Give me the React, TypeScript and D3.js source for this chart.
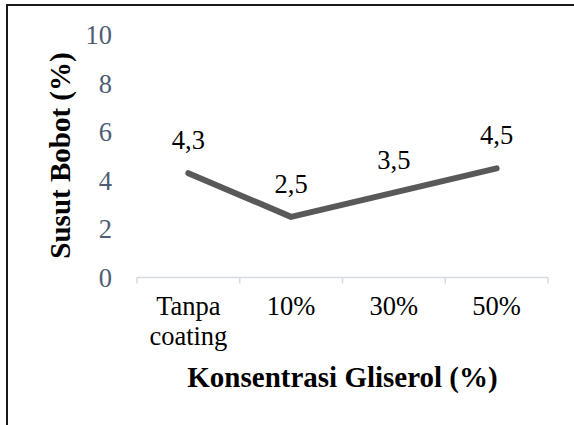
import React from "react";
import * as d3 from "d3";

const categories: string[][] = [["Tanpa", "coating"], ["10%"], ["30%"], ["50%"]];
const values: number[] = [4.3, 2.5, 3.5, 4.5];
const valueLabels: string[] = ["4,3", "2,5", "3,5", "4,5"];
const yTicks: number[] = [0, 2, 4, 6, 8, 10];

const W = 574;
const H = 425;

const serif = '"Liberation Serif", "Times New Roman", Times, "DejaVu Serif", serif';

export default function App() {
  const x = d3
    .scaleBand<number>()
    .domain(categories.map((_, i) => i))
    .range([137, 548])
    .paddingInner(0)
    .paddingOuter(0);
  const y = d3.scaleLinear().domain([0, 10]).range([277.5, 35]);

  const line = d3
    .line<number>()
    .x((_, i) => (x(i) as number) + x.bandwidth() / 2)
    .y((d) => y(d));

  const tickPositions = [...x.domain().map((i) => x(i) as number), 548];
  const ts = { fontFamily: serif };

  return (
    <svg
      width={W}
      height={H}
      style={{ position: "absolute", left: 0, top: 0, background: "#fff", fontFamily: serif }}
    >
      <rect x={0} y={0} width={W} height={H} fill="#fff" />
      {/* frame */}
      <line x1={7} y1={5} x2={W} y2={5} stroke="#1a1a1a" strokeWidth={2} />
      <line x1={7} y1={4} x2={7} y2={H} stroke="#1a1a1a" strokeWidth={2} />

      {/* y tick labels */}
      {yTicks.map((t) => (
        <text
          key={t}
          x={112}
          y={y(t)}
          textAnchor="end"
          dominantBaseline="central"
          fontSize={26.5}
          fill="#4E5D74"
          style={ts}
        >
          {t}
        </text>
      ))}

      {/* x axis */}
      <line x1={137} y1={y(0)} x2={548} y2={y(0)} stroke="#D6DBE3" strokeWidth={1.5} />
      {tickPositions.map((p, i) => (
        <line key={i} x1={p} y1={y(0)} x2={p} y2={y(0) + 6} stroke="#D6DBE3" strokeWidth={1.5} />
      ))}

      {/* category labels */}
      {categories.map((lines, i) => (
        <text
          key={i}
          x={(x(i) as number) + x.bandwidth() / 2}
          y={315}
          textAnchor="middle"
          fontSize={26.5}
          fill="#000"
          style={ts}
        >
          {lines.map((l, j) => (
            <tspan key={j} x={(x(i) as number) + x.bandwidth() / 2} dy={j === 0 ? 0 : 30}>
              {l}
            </tspan>
          ))}
        </text>
      ))}

      {/* line */}
      <path
        d={line(values) || ""}
        fill="none"
        stroke="#595959"
        strokeWidth={6}
        strokeLinecap="round"
        strokeLinejoin="round"
      />

      {/* data labels */}
      {values.map((v, i) => (
        <text
          key={i}
          x={(x(i) as number) + x.bandwidth() / 2}
          y={y(v) - 24}
          textAnchor="middle"
          fontSize={26.5}
          fill="#000"
          style={ts}
        >
          {valueLabels[i]}
        </text>
      ))}

      {/* axis titles */}
      <text
        x={342.5}
        y={387}
        textAnchor="middle"
        fontSize={29}
        fontWeight="bold"
        fill="#000"
        style={ts}
      >
        Konsentrasi Gliserol (%)
      </text>
      <text
        transform={`translate(70,155.5) rotate(-90)`}
        textAnchor="middle"
        fontSize={29}
        fontWeight="bold"
        fill="#000"
        style={ts}
      >
        Susut Bobot (%)
      </text>
    </svg>
  );
}
